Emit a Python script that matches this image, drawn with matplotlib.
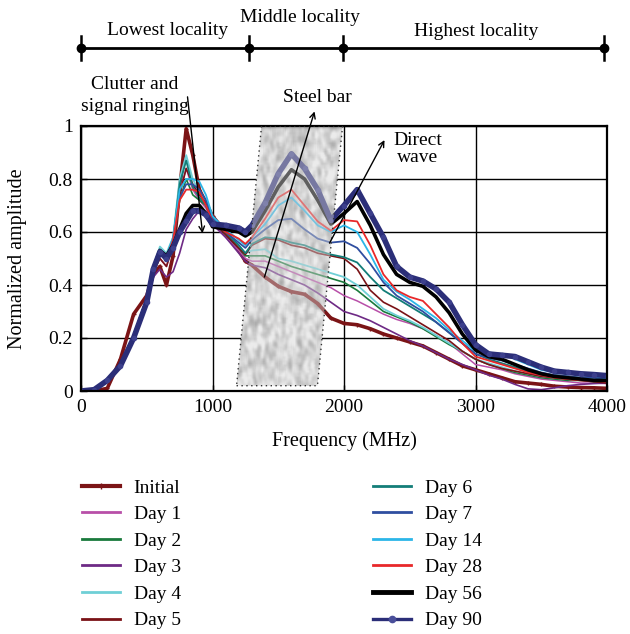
import numpy as np
import matplotlib
matplotlib.use("Agg")
import matplotlib.pyplot as plt
from matplotlib.patches import Polygon
from matplotlib.lines import Line2D

plt.rcParams["font.family"] = ["Liberation Serif", "DejaVu Serif"]

# Frequency axis (MHz)
freq = [0, 100, 200, 300, 400, 500, 550, 600, 650, 700, 750, 800, 850, 900, 950,
        1000, 1100, 1200, 1250, 1300, 1400, 1500, 1600, 1700, 1800, 1900, 2000,
        2100, 2200, 2300, 2400, 2500, 2600, 2700, 2800, 2900, 3000, 3100, 3200,
        3300, 3400, 3500, 3600, 3700, 3800, 3900, 4000]

# Normalized amplitude spectra by curing age
initial = [0, 0, 0.01, 0.12, 0.29, 0.36, 0.44, 0.47, 0.40, 0.51, 0.76, 0.99, 0.89, 0.76, 0.71,
           0.66, 0.60, 0.53, 0.49, 0.475, 0.43, 0.395, 0.375, 0.365, 0.33, 0.275, 0.255,
           0.25, 0.235, 0.215, 0.20, 0.185, 0.17, 0.145, 0.12, 0.095, 0.08, 0.065, 0.05,
           0.035, 0.03, 0.025, 0.018, 0.015, 0.013, 0.012, 0.01]
day1 = [0, 0.005, 0.04, 0.10, 0.21, 0.35, 0.45, 0.50, 0.47, 0.55, 0.75, 0.84, 0.76, 0.72, 0.69,
        0.63, 0.58, 0.53, 0.50, 0.49, 0.49, 0.47, 0.45, 0.43, 0.41, 0.39, 0.36,
        0.34, 0.315, 0.29, 0.27, 0.255, 0.235, 0.21, 0.18, 0.14, 0.10, 0.09, 0.08,
        0.065, 0.055, 0.045, 0.04, 0.035, 0.03, 0.03, 0.028]
day2 = [0, 0.005, 0.04, 0.10, 0.21, 0.35, 0.46, 0.52, 0.49, 0.56, 0.72, 0.80, 0.74, 0.72, 0.70,
        0.64, 0.59, 0.54, 0.51, 0.51, 0.51, 0.49, 0.47, 0.455, 0.44, 0.425, 0.41,
        0.38, 0.34, 0.30, 0.28, 0.26, 0.235, 0.205, 0.175, 0.15, 0.12, 0.10, 0.085,
        0.07, 0.06, 0.05, 0.045, 0.04, 0.04, 0.035, 0.035]
day3 = [0, 0.005, 0.04, 0.10, 0.21, 0.34, 0.43, 0.46, 0.43, 0.45, 0.52, 0.61, 0.65, 0.68, 0.67,
        0.63, 0.58, 0.52, 0.49, 0.475, 0.465, 0.44, 0.42, 0.40, 0.37, 0.335, 0.30,
        0.285, 0.265, 0.24, 0.215, 0.19, 0.17, 0.145, 0.12, 0.10, 0.08, 0.06, 0.045,
        0.025, 0.008, 0.005, 0.012, 0.02, 0.025, 0.028, 0.03]
day4 = [0, 0.005, 0.04, 0.10, 0.21, 0.35, 0.47, 0.545, 0.52, 0.58, 0.80, 0.89, 0.80, 0.75, 0.71,
        0.65, 0.60, 0.55, 0.52, 0.53, 0.535, 0.50, 0.49, 0.475, 0.46, 0.445, 0.43,
        0.40, 0.355, 0.31, 0.285, 0.265, 0.24, 0.21, 0.18, 0.15, 0.12, 0.105, 0.09,
        0.075, 0.065, 0.055, 0.05, 0.045, 0.04, 0.04, 0.04]
day5 = [0, 0.005, 0.04, 0.10, 0.21, 0.35, 0.45, 0.50, 0.47, 0.55, 0.74, 0.84, 0.78, 0.74, 0.71,
        0.64, 0.59, 0.54, 0.515, 0.55, 0.575, 0.57, 0.55, 0.54, 0.52, 0.51, 0.50,
        0.46, 0.38, 0.335, 0.31, 0.28, 0.25, 0.22, 0.19, 0.15, 0.12, 0.10, 0.085,
        0.075, 0.065, 0.055, 0.05, 0.045, 0.04, 0.035, 0.03]
day6 = [0, 0.005, 0.04, 0.10, 0.21, 0.35, 0.46, 0.535, 0.51, 0.57, 0.78, 0.87, 0.77, 0.73, 0.70,
        0.64, 0.60, 0.55, 0.52, 0.555, 0.58, 0.575, 0.56, 0.55, 0.53, 0.515, 0.505,
        0.485, 0.43, 0.38, 0.35, 0.32, 0.29, 0.26, 0.22, 0.18, 0.14, 0.12, 0.105,
        0.09, 0.075, 0.065, 0.06, 0.055, 0.05, 0.05, 0.045]
day7 = [0, 0.005, 0.04, 0.10, 0.21, 0.35, 0.46, 0.52, 0.50, 0.57, 0.73, 0.78, 0.78, 0.76, 0.72,
        0.65, 0.60, 0.56, 0.54, 0.57, 0.61, 0.645, 0.65, 0.61, 0.575, 0.56, 0.565,
        0.54, 0.48, 0.41, 0.36, 0.33, 0.30, 0.26, 0.22, 0.18, 0.14, 0.125, 0.115,
        0.10, 0.085, 0.07, 0.06, 0.055, 0.05, 0.05, 0.045]
day14 = [0, 0.005, 0.04, 0.10, 0.21, 0.35, 0.47, 0.53, 0.51, 0.58, 0.76, 0.80, 0.80, 0.79, 0.74,
         0.66, 0.61, 0.57, 0.55, 0.58, 0.63, 0.70, 0.73, 0.68, 0.625, 0.60, 0.625,
         0.60, 0.515, 0.42, 0.375, 0.345, 0.31, 0.275, 0.23, 0.19, 0.15, 0.145, 0.14,
         0.12, 0.10, 0.08, 0.07, 0.065, 0.06, 0.055, 0.05]
day28 = [0, 0.005, 0.04, 0.10, 0.21, 0.35, 0.46, 0.52, 0.50, 0.57, 0.72, 0.76, 0.76, 0.75, 0.70,
         0.64, 0.60, 0.575, 0.555, 0.58, 0.65, 0.73, 0.76, 0.70, 0.64, 0.605, 0.645,
         0.64, 0.55, 0.44, 0.38, 0.355, 0.34, 0.29, 0.24, 0.18, 0.13, 0.115, 0.10,
         0.085, 0.07, 0.06, 0.05, 0.045, 0.04, 0.04, 0.035]
day56 = [0, 0.005, 0.04, 0.10, 0.20, 0.335, 0.46, 0.53, 0.51, 0.55, 0.61, 0.67, 0.70, 0.70, 0.67,
         0.62, 0.61, 0.60, 0.585, 0.60, 0.68, 0.77, 0.835, 0.80, 0.72, 0.63, 0.67,
         0.715, 0.625, 0.515, 0.44, 0.41, 0.395, 0.355, 0.295, 0.215, 0.155, 0.13, 0.12,
         0.10, 0.08, 0.065, 0.055, 0.05, 0.045, 0.04, 0.04]
day90 = [0, 0.005, 0.04, 0.095, 0.20, 0.335, 0.46, 0.525, 0.50, 0.54, 0.60, 0.64, 0.68, 0.68, 0.665,
         0.63, 0.625, 0.615, 0.60, 0.625, 0.71, 0.82, 0.895, 0.84, 0.76, 0.645, 0.70,
         0.76, 0.67, 0.58, 0.47, 0.43, 0.415, 0.385, 0.335, 0.25, 0.175, 0.14, 0.135,
         0.13, 0.11, 0.09, 0.075, 0.07, 0.065, 0.062, 0.058]

labels = ["Initial", "Day 1", "Day 2", "Day 3", "Day 4", "Day 5",
          "Day 6", "Day 7", "Day 14", "Day 28", "Day 56", "Day 90"]
values = [initial, day1, day2, day3, day4, day5, day6, day7, day14, day28, day56, day90]

colors = ["#7b1416", "#b84fa8", "#1a7a3c", "#6e2a85", "#6fcfd6", "#7a1216",
          "#137d78", "#2f4ea0", "#2bb6e8", "#e8282a", "black", "#2b2e78"]
widths = [2.6, 1.1, 1.2, 1.2, 1.3, 1.2, 1.3, 1.3, 1.3, 1.3, 2.6, 4.0]

fig = plt.figure(figsize=(6.3, 6.34), dpi=100)
ax = fig.add_axes([81 / 630, 1 - 391 / 634, (607 - 81) / 630, (391 - 126) / 634])

ax.set_xlim(0, 4000)
ax.set_ylim(0, 1)
ax.set_xticks([0, 1000, 2000, 3000, 4000])
ax.set_yticks([0, 0.2, 0.4, 0.6, 0.8, 1.0])
ax.set_yticklabels(["0", "0.2", "0.4", "0.6", "0.8", "1"])
ax.grid(True, color="black", lw=1.0)
ax.set_axisbelow(True)
for s in ax.spines.values():
    s.set_linewidth(1.6)
ax.tick_params(direction="in", length=4, width=1.0, labelsize=14, pad=6)
ax.set_xlabel("Frequency (MHz)", fontsize=14.5, labelpad=11)
ax.set_ylabel("Normalized amplitude", fontsize=14.5, labelpad=15)

# Steel bar region: textured parallelogram
band = [(1183, 0.02), (1798, 0.02), (1989, 1.0), (1373, 1.0)]
rng = np.random.default_rng(7)
noise = rng.random((130, 100))
k = np.ones(3) / 3
for _ in range(2):
    noise = np.apply_along_axis(lambda r: np.convolve(r, k, mode="same"), 0, noise)
    noise = np.apply_along_axis(lambda r: np.convolve(r, k, mode="same"), 1, noise)
tex = 0.83 + 0.11 * (noise - noise.mean()) / (noise.std() + 1e-9)
img = ax.imshow(tex, cmap="gray", vmin=0, vmax=1, extent=(1150, 2020, 0, 1.0),
                aspect="auto", zorder=1.5, interpolation="bilinear")
clip = Polygon(band, closed=True, transform=ax.transData, facecolor="none", edgecolor="none")
ax.add_patch(clip)
img.set_clip_path(clip)

for lab, val, c, w in zip(labels, values, colors, widths):
    kw = dict(color=c, lw=w, zorder=2, solid_joinstyle="round")
    if lab == "Initial":
        kw.update(marker="+", ms=3.5, mew=1.0)
    elif lab == "Day 90":
        kw.update(marker="o", ms=3.0, mfc="#3c3f8c", mec="#3c3f8c")
    ax.plot(freq, val, **kw)

# wash over curves inside the steel bar band and its dotted outline
ax.add_patch(Polygon(band, closed=True, facecolor="#d4d4d4", edgecolor="none", alpha=0.45, zorder=2.5))
ax.add_patch(Polygon(band, closed=True, facecolor="none", edgecolor="#333333",
                     lw=1.0, linestyle=(0, (1, 2.5)), zorder=2.6))

ax.set_xlim(0, 4000)
ax.set_ylim(0, 1)

# Annotations
tkw = dict(fontsize=14, ha="center", va="center", clip_on=False)
akw = dict(arrowstyle="->", color="black", lw=1.0, shrinkA=0, shrinkB=0)
ax.text(407, 1.155, "Clutter and", **tkw)
ax.text(407, 1.072, "signal ringing", **tkw)
ax.annotate("", xy=(924, 0.595), xytext=(810, 1.11), annotation_clip=False,
            arrowprops=akw, zorder=4)
ax.text(1798, 1.106, "Steel bar", **tkw)
ax.annotate("", xy=(1776, 1.055), xytext=(1395, 0.43), annotation_clip=False,
            arrowprops=akw, zorder=4)
ax.text(2559, 0.947, "Direct", **tkw)
ax.text(2559, 0.883, "wave", **tkw)
ax.annotate("", xy=(2308, 0.947), xytext=(1890, 0.558), annotation_clip=False,
            arrowprops=akw, zorder=4)

# Locality bands above the plot
bar_y = 1.294
edges = [0, 1280, 1990, 3975]
ax.plot([edges[0], edges[-1]], [bar_y, bar_y], color="black", lw=2.0, clip_on=False)
ax.plot(edges, [bar_y] * 4, "o", color="black", ms=6, clip_on=False)
for e in edges:
    ax.plot([e, e], [bar_y - 0.045, bar_y + 0.045], color="black", lw=1.8, clip_on=False)
ax.text(658, 1.362, "Lowest locality", **tkw)
ax.text(1662, 1.408, "Middle locality", **tkw)
ax.text(3008, 1.358, "Highest locality", **tkw)

# Legend keys
leg_w = [3.0, 2.0, 2.0, 2.0, 2.0, 2.0, 2.0, 2.0, 2.0, 2.0, 3.5, 2.4]
keys = []
for lab, c, w in zip(labels, colors, leg_w):
    kw = dict(color=c, lw=w)
    if lab == "Initial":
        kw.update(marker="|", ms=4, mew=1.0)
    elif lab == "Day 90":
        kw.update(marker="o", ms=4.5, mfc="#4a4f9a", mec="#4a4f9a")
    keys.append(Line2D([], [], **kw))

lkw = dict(frameon=False, fontsize=14, handlelength=1.95, handletextpad=0.7,
           labelspacing=0.46, borderpad=0, borderaxespad=0, loc="upper left",
           numpoints=1)
fig.legend(keys[:6], labels[:6], bbox_to_anchor=(82 / 630, 1 - 479 / 634), **lkw)
fig.legend(keys[6:], labels[6:], bbox_to_anchor=(373 / 630, 1 - 479 / 634), **lkw)

fig.savefig("out.png", dpi=100)
